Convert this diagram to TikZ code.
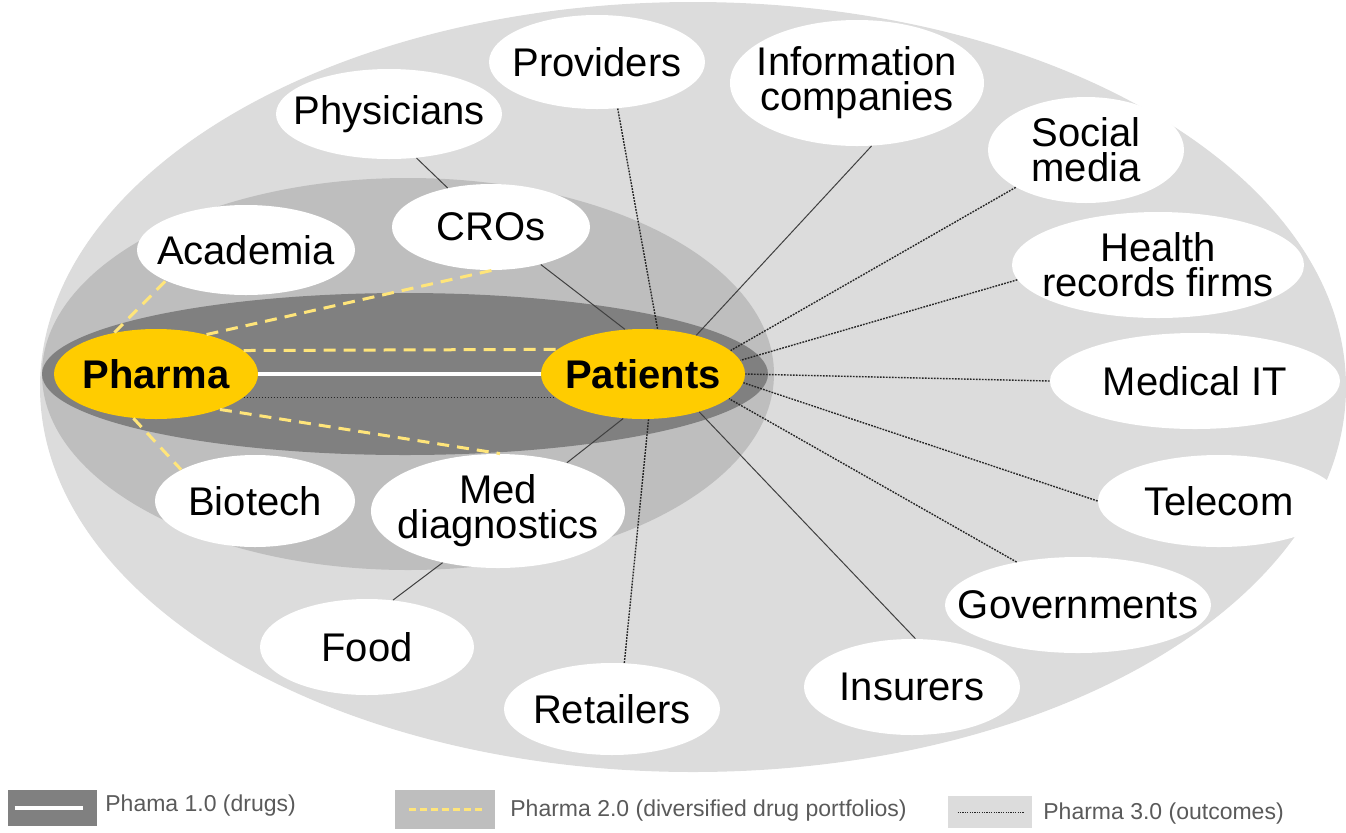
\documentclass[tikz,border=0pt]{standalone}
\usepackage{fontspec}
\setmainfont{Liberation Sans}
\usetikzlibrary{shapes.geometric}
\definecolor{outerg}{HTML}{DCDCDC}
\definecolor{midg}{HTML}{BEBEBE}
\definecolor{inng}{HTML}{808080}
\definecolor{pyel}{HTML}{FFCC00}
\definecolor{dyel}{HTML}{FFE57A}
\definecolor{legtxt}{HTML}{5A5A5A}
\tikzset{
 wbg/.style={ellipse, fill=white, inner sep=0pt},
 wtxt/.style={inner sep=0pt, align=center, font=\fontsize{20}{17.5}\selectfont},
 ybg/.style={ellipse, fill=pyel, inner sep=0pt},
 ytxt/.style={inner sep=0pt, font=\fontsize{20}{24}\selectfont\bfseries},
 lsolid/.style={draw=black!75, line width=0.5pt},
 ldot/.style={draw=black!85, line width=0.7pt, dash pattern=on 0.9pt off 0.6pt},
 ldash/.style={draw=dyel, line width=1.5pt, dash pattern=on 6pt off 4pt},
 lwhite/.style={draw=white, line width=2.2pt},
 legtext/.style={anchor=west, text=legtxt, font=\fontsize{11.5}{13}\selectfont, inner sep=0pt},
 legbox/.style={inner sep=0pt, draw=none},
}
\newcommand{\mkbub}[6]{%
 \node[wbg, minimum width=#4pt, minimum height=#5pt] (#1) at (#2,#3) {};
 \node[wtxt] (#1t) at (#2,#3) {#6};}
\begin{document}
\begin{tikzpicture}[x=0.5pt,y=-0.5pt]
\useasboundingbox (0,0) rectangle (1346,832);
% background ellipses
\fill[outerg] (693,387) ellipse [x radius=326.5pt, y radius=192.5pt];
\fill[midg] (408,374) ellipse [x radius=183pt, y radius=98pt];
\fill[inng] (405,374) ellipse [x radius=181.5pt, y radius=40.5pt];

% bubbles
\mkbub{prov}{597}{62}{108}{47}{Providers}
\mkbub{phys}{389}{114}{113}{45}{Physicians}
\mkbub{info}{857}{83}{127}{63}{Information\\companies}
\mkbub{soc}{1086}{150}{98}{53}{Social\\media}
\mkbub{cro}{491}{227}{99}{43}{CROs}
\mkbub{acad}{246}{250}{109}{45}{Academia}
\mkbub{hrec}{1158}{265}{146}{53}{Health\\records firms}
\mkbub{mit}{1195}{381}{145}{48}{Medical IT}
\mkbub{bio}{255}{501}{100}{46}{Biotech}
\mkbub{mdx}{498}{511}{127}{57}{Med\\diagnostics}
\mkbub{tel}{1219}{501}{121}{46}{Telecom}
\mkbub{gov}{1078}{605}{133}{48}{Governments}
\mkbub{food}{367}{647}{107}{48}{Food}
\mkbub{ins}{912}{687}{108}{48}{Insurers}
\mkbub{ret}{612}{709}{108}{46}{Retailers}

\node[ybg, minimum width=102pt, minimum height=45pt] (pha) at (156,374) {};
\node[ytxt] (phat) at (156,374) {Pharma};
\node[ybg, minimum width=102pt, minimum height=45pt] (pat) at (643,374) {};
\node[ytxt] (patt) at (643,374) {Patients};

% Pharma 3.0 connectors
\draw[lsolid] (phys.-58) -- (cro.138);
\draw[lsolid] (cro.-37) -- (pat.112);
\draw[lsolid] (info.-77) -- (pat.36);
\draw[lsolid] (ins.86) -- (pat.-34);
\draw[lsolid] (mdx.35) -- (pat.-114);
\draw[lsolid] (food.61) -- (mdx.-137);
\draw[ldot] (prov.-66) -- (pat.72);
\draw[ldot] (soc.208) -- (pat.15);
\draw[ldot] (hrec.186) -- (pat.8);
\draw[ldot] (mit.180) -- (pat.0);
\draw[ldot] (tel.180) -- (pat.-5);
\draw[ldot] (gov.145) -- (pat.-16);
\draw[ldot] (ret.75) -- (pat.-83);
\draw[ldot] (pha.-15.6) -- (pat.195.6);
% Pharma 2.0 connectors
\draw[ldash] (pha.135.6) -- (acad.201.5);
\draw[ldash] (pha.38.5) -- (cro.-89);
\draw[ldash] (pha.15.6) -- (pat.164.4);
\draw[ldash] (pha.-29) -- (mdx.88);
\draw[ldash] (pha.-117.6) -- (bio.157);
% Pharma 1.0 connector
\draw[lwhite] (pha.east) -- (pat.west);

% legend
\node[legbox, fill=inng, minimum width=44.5pt, minimum height=18pt] (lg1) at (52.5,808) {};
\draw[lwhite] ([xshift=3.5pt]lg1.west) -- ([xshift=-7pt]lg1.east);
\node[legtext] (lt1) at (105,806) {Phama 1.0 (drugs)};
\node[legbox, fill=midg, minimum width=50pt, minimum height=19.5pt] (lg2) at (445,809.5) {};
\draw[draw=dyel, line width=1.2pt, dash pattern=on 3.5pt off 2pt] ([xshift=7pt]lg2.west) -- ([xshift=-6pt]lg2.east);
\node[legtext] (lt2) at (510,811) {Pharma 2.0 (diversified drug portfolios)};
\node[legbox, fill=outerg, minimum width=42pt, minimum height=16pt] (lg3) at (990,812) {};
\draw[ldot, line width=0.5pt, dash pattern=on 0.6pt off 0.6pt] ([xshift=5pt]lg3.west) -- ([xshift=-4pt]lg3.east);
\node[legtext] (lt3) at (1043,814) {Pharma 3.0 (outcomes)};
\end{tikzpicture}
\end{document}
